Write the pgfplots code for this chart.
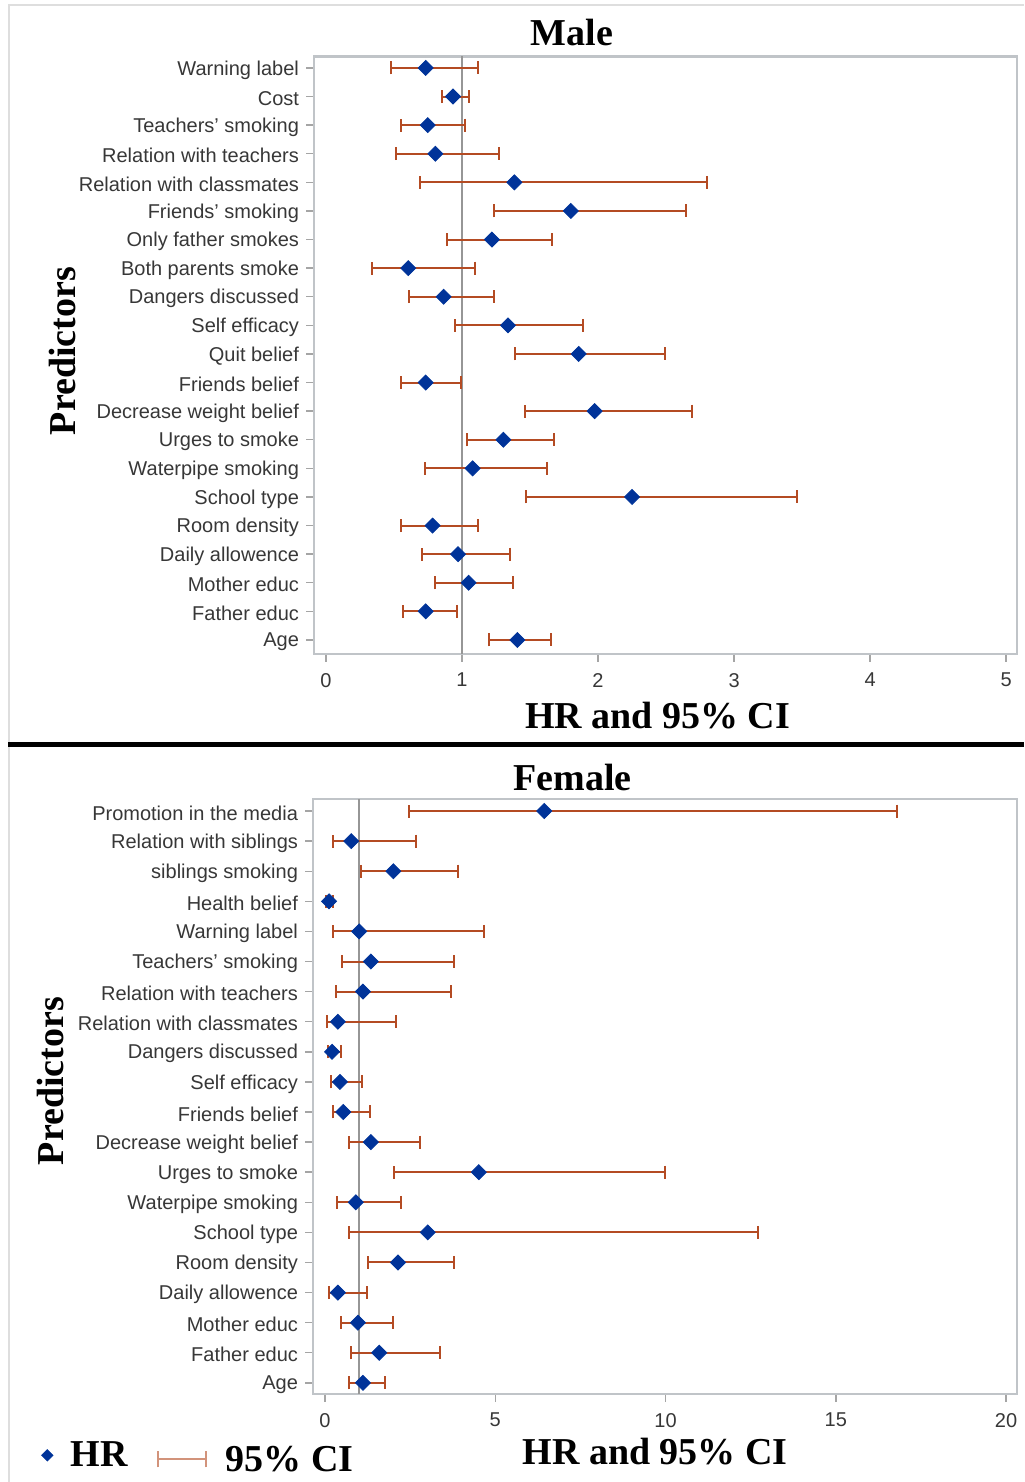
\documentclass[border=0pt]{standalone}
\usepackage{pgfplots}
\pgfplotsset{compat=1.18}
\usepackage{pgfplotstable}
\usepackage{fontspec}
\setmainfont{Liberation Serif}
\newfontfamily\tickfont{Liberation Sans}

\definecolor{cicol}{RGB}{180,75,35}
\definecolor{hrcol}{RGB}{0,51,153}
\definecolor{framecol}{RGB}{192,196,200}
\definecolor{refcol}{RGB}{150,150,150}
\definecolor{tickcol}{RGB}{165,165,165}
\definecolor{labcol}{RGB}{55,55,55}
\definecolor{bordercol}{RGB}{222,222,222}

\pgfplotstableread{
idx hr lo hi
0 1.407 1.201 1.652
1 0.733 0.566 0.966
2 1.049 0.804 1.377
3 0.971 0.703 1.353
4 0.784 0.554 1.120
5 2.250 1.473 3.460
6 1.078 0.730 1.627
7 1.304 1.037 1.674
8 1.975 1.466 2.689
9 0.733 0.554 0.995
10 1.858 1.392 2.493
11 1.338 0.951 1.892
12 0.865 0.613 1.238
13 0.605 0.336 1.098
14 1.220 0.892 1.662
15 1.800 1.233 2.645
16 1.385 0.694 2.800
17 0.804 0.517 1.274
18 0.748 0.554 1.024
19 0.934 0.851 1.049
20 0.733 0.478 1.120
}\maletab

\pgfplotstableread{
idx hr lo hi
0 1.116 0.711 1.765
1 1.594 0.760 3.370
2 0.969 0.466 2.000
3 0.380 0.110 1.226
4 2.145 1.275 3.790
5 3.020 0.711 12.730
6 0.907 0.356 2.240
7 4.520 2.035 9.980
8 1.349 0.711 2.780
9 0.539 0.233 1.324
10 0.441 0.172 1.090
11 0.210 0.086 0.466
12 0.380 0.061 2.080
13 1.116 0.331 3.700
14 1.349 0.515 3.790
15 1.005 0.233 4.660
16 0.120 0.030 0.250
17 2.010 1.067 3.900
18 0.772 0.233 2.660
19 6.440 2.480 16.810
}\femaletab

\pgfplotsset{
  forest/.style={
    scale only axis,
    axis line style={draw=framecol, line width=1.1pt},
    tick style={draw=tickcol, line width=0.7pt},
    tick align=outside,
    major tick length=4pt,
    xtick pos=bottom, ytick pos=left,
    ticklabel style={font=\tickfont\fontsize{10}{12}\selectfont, text=labcol},
    xticklabel style={yshift=-2pt},
    yticklabel style={yshift=-1pt},
    /pgf/number format/assume math mode=true,
    title style={font=\bfseries\fontsize{19}{22}\selectfont, anchor=base, yshift=-6pt},
    xlabel style={font=\bfseries\fontsize{19}{22}\selectfont, anchor=base},
    ylabel style={font=\bfseries\fontsize{19}{22}\selectfont, anchor=base},
  },
  ciplot/.style={
    draw=none, mark=none,
    error bars/.cd, x dir=both, x explicit,
    error mark=|,
    error bar style={draw=cicol, line width=1pt},
    error mark options={draw=cicol, line width=1pt, mark size=3.25pt},
    /pgfplots/.cd,
  },
  hrplot/.style={
    only marks, mark=square*, mark size=2.65pt,
    mark options={rotate=45, fill=hrcol, draw=hrcol},
  },
}

\begin{document}
\begin{tikzpicture}
\useasboundingbox (0,0) rectangle (512pt,741pt);

% ---------- Male ----------
\begin{axis}[forest,
  at={(157pt,414pt)}, anchor=south west,
  width=351.5pt, height=298.75pt,
  xmin=-0.088, xmax=5.08, ymin=-0.49, ymax=20.40,
  xtick={0,1,2,3,4,5},
  ytick={0,...,20},
  yticklabels={Age, Father educ, Mother educ, Daily allowence, Room density, School type, Waterpipe smoking, Urges to smoke, Decrease weight belief, Friends belief, Quit belief, Self efficacy, Dangers discussed, Both parents smoke, Only father smokes, Friends’ smoking, Relation with classmates, Relation with teachers, Teachers’ smoking, Cost, Warning label},
  title={Male},
  title style={at={(axis description cs:0.367,1.019)}},
  xlabel={HR and 95\% CI},
  xlabel style={at={(axis description cs:0.489,-0.124)}},
  ylabel={Predictors},
  ylabel style={at={(axis description cs:-0.339,0.507)}},
]
\addplot[refcol, line width=1pt, forget plot] coordinates {(1,-0.49) (1,20.40)};
\addplot[forget plot, ciplot] table[x=hr, y=idx,
  x error plus expr=\thisrow{hi}-\thisrow{hr},
  x error minus expr=\thisrow{hr}-\thisrow{lo}] {\maletab};
\addplot[forget plot, hrplot] table[x=hr, y=idx] {\maletab};
\end{axis}

% ---------- Female ----------
\begin{axis}[forest,
  at={(156.5pt,44pt)}, anchor=south west,
  width=352pt, height=297.5pt,
  xmin=-0.35, xmax=20.32, ymin=-0.37, ymax=19.40,
  xtick={0,5,10,15,20},
  ytick={0,...,19},
  yticklabels={Age, Father educ, Mother educ, Daily allowence, Room density, School type, Waterpipe smoking, Urges to smoke, Decrease weight belief, Friends belief, Self efficacy, Dangers discussed, Relation with classmates, Relation with teachers, Teachers’ smoking, Warning label, Health belief, siblings smoking, Relation with siblings, Promotion in the media},
  title={Female},
  title style={at={(axis description cs:0.3686,1.015)}},
  xlabel={HR and 95\% CI},
  xlabel style={at={(axis description cs:0.486,-0.119)}},
  ylabel={Predictors},
  ylabel style={at={(axis description cs:-0.354,0.526)}},
  legend style={at={(axis description cs:-0.386,-0.103)}, anchor=west,
    draw=none, fill=none, legend columns=-1, inner sep=0pt,
    font=\bfseries\fontsize{19}{22}\selectfont,
    /tikz/every even column/.append style={column sep=12.5pt}},
]
\addlegendimage{only marks, mark=square*, mark size=2pt, mark options={rotate=45, fill=hrcol, draw=hrcol}}
\addlegendentry{\hspace{7pt}HR}
\addlegendimage{legend image code/.code={
  \draw[cicol!60, line width=1pt] (0pt,-2pt) -- (24pt,-2pt);
  \draw[cicol!60, line width=1pt] (0pt,-6pt) -- (0pt,2pt) (24pt,-6pt) -- (24pt,2pt);}}
\addlegendentry{\hspace{7.5pt}\raisebox{-5pt}{95\% CI}}
\addplot[refcol, line width=1pt, forget plot] coordinates {(1,-0.37) (1,19.40)};
\addplot[forget plot, ciplot] table[x=hr, y=idx,
  x error plus expr=\thisrow{hi}-\thisrow{hr},
  x error minus expr=\thisrow{hr}-\thisrow{lo}] {\femaletab};
\addplot[forget plot, hrplot] table[x=hr, y=idx] {\femaletab};
\end{axis}

% frame and separator
\draw[bordercol, line width=1pt] (4.5pt,0pt) -- (4.5pt,738.5pt) -- (512pt,738.5pt);
\draw[black, line width=2.5pt] (4pt,368.5pt) -- (512pt,368.5pt);
\end{tikzpicture}
\end{document}
